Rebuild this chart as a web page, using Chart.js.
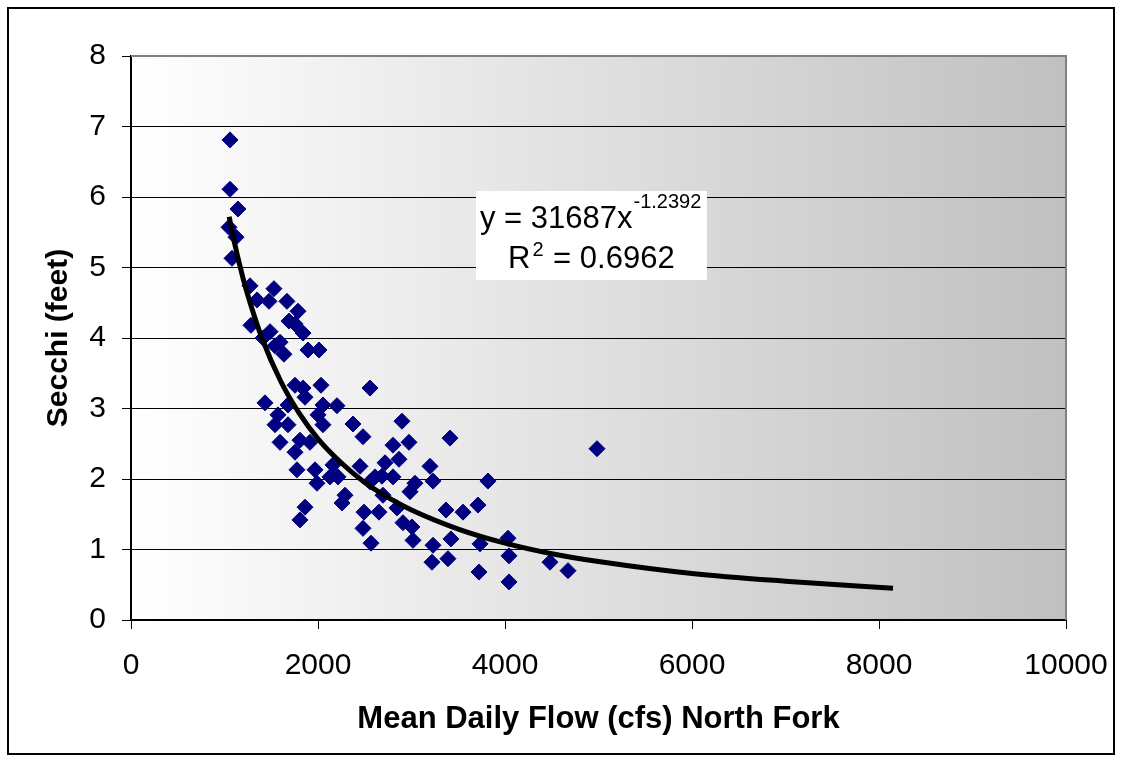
<!DOCTYPE html>
<html>
<head>
<meta charset="utf-8">
<script src="https://cdn.jsdelivr.net/npm/chart.js@4.4.1/dist/chart.umd.min.js"></script>
<style>
  html, body { margin: 0; padding: 0; background: #fff; }
  #wrap { width: 1122px; height: 760px; position: relative; }
</style>
</head>
<body>
<div id="wrap"><canvas id="myChart" width="1122" height="760"></canvas></div>
<script>
// observed points: flow (cfs) vs secchi (feet)
var flow = [1059,1059,1144,1048,1123,1080,1273,1529,1348,1476,1668,1786,1690,1754,1283,1487,1840,1594,1412,1540,
    1636,1893,2011,1754,1840,2032,1861,1433,1679,2053,2203,1572,2000,2374,1540,1679,2053,1594,1807,1914,
    1754,1775,1968,1989,2160,2128,2214,2289,2257,1861,1807,2556,2481,2802,2898,2973,3412,2866,2717,2449,
    3198,2610,2802,3230,3037,2984,2556,2695,2845,2492,2652,3369,3551,3711,2481,2909,3005,3016,2567,3230,
    3422,3818,4984,4032,3733,4043,3219,3390,4481,3722,4674,4043,2684];
var secchi = [6.81,6.11,5.83,5.57,5.43,5.13,4.74,4.70,4.54,4.52,4.52,4.38,4.24,4.20,4.18,4.09,4.07,3.94,4.00,3.89,
    3.77,3.83,3.83,3.33,3.29,3.33,3.16,3.08,3.05,3.05,3.04,2.91,2.91,2.78,2.77,2.77,2.77,2.52,2.55,2.52,
    2.38,2.13,2.13,1.94,2.20,2.03,2.03,1.77,1.66,1.60,1.42,3.29,2.60,2.48,2.82,2.52,2.58,2.28,2.23,2.18,
    2.18,2.03,2.03,1.97,1.94,1.82,1.96,1.77,1.59,1.53,1.53,1.56,1.53,1.63,1.30,1.38,1.32,1.13,1.09,1.06,
    1.15,1.97,2.43,1.16,1.08,0.91,0.82,0.87,0.82,0.68,0.70,0.54,2.04];

// power trendline
var trendX = [1050,1100,1200,1300,1400,1600,1800,2000,2200,2500,2800,3000,3500,4000,4500,5000,6000,7000,8150];
var trendY = [5.72,5.39,4.84,4.39,4.00,3.39,2.93,2.57,2.29,1.95,1.70,1.56,1.29,1.09,0.94,0.83,0.66,0.55,0.45];

var xTicks = [0,2000,4000,6000,8000,10000];
var yTicks = [0,1,2,3,4,5,6,7,8];

var FONT = '"Liberation Sans", Arial, sans-serif';
var ctx;
var myChart;

var framePlugin = {
    id: 'frame',
    beforeDraw: function(chart) {
        var c = chart.ctx, a = chart.chartArea;
        c.save();
        c.fillStyle = '#ffffff';
        c.fillRect(0, 0, chart.width, chart.height);
        c.strokeStyle = '#000';
        c.lineWidth = 2;
        c.strokeRect(8, 8, 1106, 746);
        var g = c.createLinearGradient(a.left, 0, a.right, 0);
        g.addColorStop(0, '#ffffff');
        g.addColorStop(1, '#c0c0c0');
        c.fillStyle = g;
        c.fillRect(a.left, a.top, a.right - a.left, a.bottom - a.top);
        c.restore();
    },
    afterDatasetsDraw: function(chart) {
        var c = chart.ctx, a = chart.chartArea;
        c.save();
        // plot area top/right border
        c.strokeStyle = '#808080';
        c.lineWidth = 2;
        c.beginPath();
        c.moveTo(a.left, a.top);
        c.lineTo(a.right, a.top);
        c.lineTo(a.right, a.bottom);
        c.stroke();
        // equation label
        c.fillStyle = '#ffffff';
        c.fillRect(476, 191, 231, 89);
        c.fillStyle = '#000';
        c.textBaseline = 'alphabetic';
        c.textAlign = 'left';
        c.font = '31px ' + FONT;
        var t1 = 'y = 31687x';
        c.fillText(t1, 480, 228);
        var w1 = c.measureText(t1).width;
        c.font = '20px ' + FONT;
        c.fillText('-1.2392', 480 + w1 + 1, 208);
        c.font = '31px ' + FONT;
        c.fillText('R', 508, 268);
        var wr = c.measureText('R').width;
        c.font = '20px ' + FONT;
        c.fillText('2', 508 + wr + 2, 256);
        var w2 = c.measureText('2').width;
        c.font = '31px ' + FONT;
        c.fillText(' = 0.6962', 508 + wr + w2 + 3, 268);
        c.restore();
    }
};

function plain(v) { return String(v); }

function startChart() {
    var pts = [];
    for (var i = 0; i < flow.length; ++i) {
        pts.push({x: flow[i], y: secchi[i]});
    }
    var tl = [];
    for (var j = 0; j < trendX.length; ++j) {
        tl.push({x: trendX[j], y: trendY[j]});
    }
    myChart = new Chart(ctx, {
        type: 'scatter',
        data: {
            datasets: [{
                label: 'Trend',
                data: tl,
                showLine: true,
                borderColor: '#000',
                borderWidth: 5,
                pointRadius: 0,
                cubicInterpolationMode: 'monotone',
                order: 0
            }, {
                label: 'Secchi',
                data: pts,
                pointStyle: 'rectRot',
                pointRadius: 8,
                backgroundColor: '#000080',
                borderColor: '#000080',
                borderWidth: 1,
                order: 1
            }]
        },
        options: {
            responsive: false,
            animation: false,
            layout: {padding: {top: 56, right: 56, left: 0, bottom: 0}},
            plugins: {legend: {display: false}, tooltip: {enabled: false}},
            scales: {
                x: {
                    type: 'linear',
                    min: 0, max: 10000,
                    afterBuildTicks: function(s) { s.ticks = xTicks.map(function(v) { return {value: v}; }); },
                    afterFit: function(s) { s.height = 140; s.paddingLeft = 0; s.paddingRight = 0; },
                    grid: {drawOnChartArea: false, drawTicks: true, tickLength: 9, color: '#000', tickColor: '#000'},
                    border: {color: '#000', width: 2},
                    ticks: {color: '#000', padding: 19, maxRotation: 0, callback: plain,
                        font: {family: FONT, size: 30}},
                    title: {display: true, text: 'Mean Daily Flow (cfs) North Fork', color: '#000',
                        padding: {top: 0, bottom: 22},
                        font: {family: FONT, size: 31, weight: 'bold'}}
                },
                y: {
                    type: 'linear',
                    min: 0, max: 8,
                    afterBuildTicks: function(s) { s.ticks = yTicks.map(function(v) { return {value: v}; }); },
                    afterFit: function(s) { s.width = 131; s.paddingTop = 0; s.paddingBottom = 0; },
                    grid: {
                        color: function(c) { return c.tick && c.tick.value === 8 ? 'rgba(0,0,0,0)' : '#000'; },
                        lineWidth: 1,
                        tickLength: 9,
                        tickColor: '#000'
                    },
                    border: {color: '#000', width: 2},
                    ticks: {color: '#000', padding: 16, callback: plain,
                        font: {family: FONT, size: 30}},
                    title: {display: true, text: 'Secchi (feet)', color: '#000',
                        padding: {top: 41, bottom: 0},
                        font: {family: FONT, size: 30, weight: 'bold'}}
                }
            }
        },
        plugins: [framePlugin]
    });
}

ctx = document.getElementById('myChart').getContext('2d');
startChart();
</script>
</body>
</html>
